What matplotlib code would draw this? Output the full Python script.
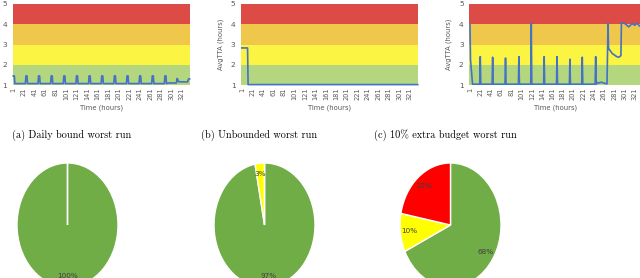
import matplotlib
matplotlib.use("Agg")
import matplotlib.pyplot as plt

W, H = 640, 278

# ---------------- data ----------------
hour_ticks = [1, 21, 41, 61, 81, 101, 121, 141, 161, 181, 201, 221, 241, 261, 281, 301, 321]
band_edges = [1, 2, 3, 4, 5]
band_colors = ["#B3D67F", "#FCF442", "#EFC84B", "#DD4B47"]

# (a) Daily bound worst run
a_hours = [1, 3, 4,
           24, 25, 27, 28, 48, 49, 51, 52, 72, 73, 75, 76, 96, 97, 99, 100,
           120, 121, 123, 124, 144, 145, 147, 148, 168, 169, 171, 172,
           192, 193, 195, 196, 216, 217, 219, 220, 240, 241, 243, 244,
           264, 265, 267, 268, 288, 289, 291, 292,
           295, 311, 312, 313, 315, 332, 334, 336]
a_tta = [1.45, 1.45, 1.07,
         1.07, 1.45, 1.45, 1.07, 1.07, 1.45, 1.45, 1.07, 1.07, 1.45, 1.45, 1.07, 1.07, 1.45, 1.45, 1.07,
         1.07, 1.45, 1.45, 1.07, 1.07, 1.45, 1.45, 1.07, 1.07, 1.45, 1.45, 1.07,
         1.07, 1.45, 1.45, 1.07, 1.07, 1.45, 1.45, 1.07, 1.07, 1.45, 1.45, 1.07,
         1.07, 1.45, 1.45, 1.07, 1.07, 1.45, 1.45, 1.07,
         1.10, 1.10, 1.32, 1.30, 1.16, 1.15, 1.30, 1.30]

# (b) Unbounded worst run
b_hours = [1, 12, 13, 336]
b_tta = [2.83, 2.83, 1.02, 1.02]

# (c) 10% extra budget worst run
c_hours = [1, 2, 6,
           20, 21, 22, 44, 45, 46, 69, 70, 71, 95, 96, 97, 119, 120, 121,
           144, 145, 146, 169, 170, 171, 194, 195, 196, 218, 219, 220, 244, 245, 246,
           249, 252, 256, 260, 264, 267,
           269, 270, 277, 286, 290, 294, 295, 302, 309, 316, 321, 325, 331, 336]
c_tta = [4.0, 2.25, 1.04,
         1.04, 2.40, 1.04, 1.04, 2.37, 1.04, 1.04, 2.33, 1.04, 1.04, 2.40, 1.04, 1.04, 4.05, 1.04,
         1.04, 2.40, 1.04, 1.04, 2.40, 1.04, 1.04, 2.27, 1.04, 1.04, 2.37, 1.04, 1.04, 2.40, 1.04,
         1.12, 1.10, 1.14, 1.10, 1.08, 1.05,
         4.05, 2.81, 2.56, 2.40, 2.37, 2.45, 4.08, 4.03, 3.87, 4.03, 3.95, 4.05, 3.90, 3.92]

line_series = [(a_hours, a_tta), (b_hours, b_tta), (c_hours, c_tta)]
captions = ["(a) Daily bound worst run", "(b) Unbounded worst run", "(c) 10% extra budget worst run"]

pie_labels = ["<=2h", "2-3h", ">3h"]
pie_values = [[100, 0, 0], [97, 3, 0], [68, 10, 22]]
pie_colors = ["#70AD47", "#FFFF00", "#FF0000"]

# ---------------- layout ----------------
fig = plt.figure(figsize=(W / 100, H / 100), dpi=100)
fig.patch.set_facecolor("white")


def px_axes(x0, y0, w, h):
    return fig.add_axes([x0 / W, 1 - (y0 + h) / H, w / W, h / H])


line_left = [12.5, 241.0, 469.2]
line_width = [177.4, 177.0, 173.6]
gray = "#595959"

for i, (hrs, vals) in enumerate(line_series):
    ax = px_axes(line_left[i], 4, line_width[i], 81)
    for j in range(len(band_colors)):
        ax.axhspan(band_edges[j], band_edges[j + 1], color=band_colors[j], lw=0, zorder=0)
    ax.plot(hrs, vals, color="#4472C4", lw=1.2, zorder=3, clip_on=False)
    ax.set_xlim(-0.5, 336.5)
    ax.set_ylim(1, 5)
    ax.set_yticks([1, 2, 3, 4, 5])
    ax.set_xticks(hour_ticks)
    ax.set_xticklabels([str(t) for t in hour_ticks], rotation=90)
    ax.tick_params(axis="both", length=0, colors=gray, labelsize=4.8)
    ax.tick_params(axis="y", pad=4, labelsize=5.4)
    ax.tick_params(axis="x", pad=2)
    for s in ax.spines.values():
        s.set_visible(False)
    ax.set_xlabel("Time (hours)", fontsize=4.9, color=gray, labelpad=3)
    if i > 0:
        ax.set_ylabel("AvgTTA (hours)", fontsize=4.9, color=gray, labelpad=5)

cap_x = [72, 259, 445]
for i, cap in enumerate(captions):
    fig.text(cap_x[i] / W, 1 - 135 / H, cap, ha="center", va="center",
             fontsize=7.4, family="cmr10")

pie_cx = [67.5, 264.5, 450.5]
pie_cy = 225
rx, ry = 50.5, 62
for i, vals in enumerate(pie_values):
    ax = px_axes(pie_cx[i] - rx, pie_cy - ry, 2 * rx, 2 * ry)
    ax.pie(vals, colors=pie_colors, startangle=90, counterclock=False,
           autopct=lambda p: f"{round(p)}%" if p > 0.5 else "",
           pctdistance=0.82,
           wedgeprops=dict(edgecolor="white", linewidth=1.0),
           textprops=dict(fontsize=5.2, color="#404040"))
    ax.set_aspect("auto")
    ax.set_xlim(-1, 1)
    ax.set_ylim(-1, 1)
    ax.axis("off")

fig.savefig("out.png", dpi=100)
